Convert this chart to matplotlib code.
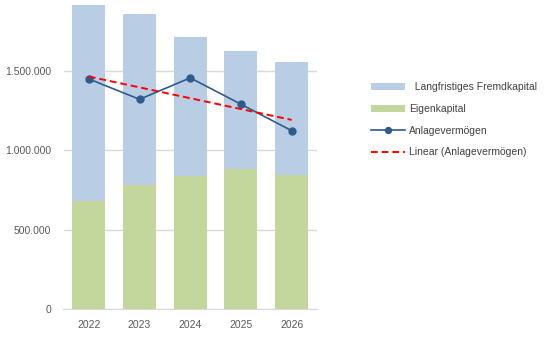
import numpy as np
import matplotlib.pyplot as plt
from matplotlib.ticker import FuncFormatter

plt.rcParams['font.family'] = ['Liberation Sans', 'DejaVu Sans']

years = ['2022', '2023', '2024', '2025', '2026']
eigenkapital = [678000, 779000, 839000, 880000, 845000]
fremdkapital = [1239000, 1078000, 873000, 744000, 709000]
anlagevermoegen = [1450000, 1322000, 1457000, 1291000, 1124000]

x = np.arange(len(years))
# linear trend of Anlagevermögen (like Excel's trendline)
k, d = np.polyfit(x, anlagevermoegen, 1)
trend = k * x + d

fig = plt.figure(figsize=(5.48, 3.53), dpi=100)
ax = fig.add_axes([63.5/548, 1-309/353, 253.5/548, 309/353])

w = 0.65
b1 = ax.bar(x, eigenkapital, w, color='#C3D69B', label='Eigenkapital', zorder=2)
b2 = ax.bar(x, fremdkapital, w, bottom=eigenkapital, color='#B9CDE5',
            label='  Langfristiges Fremdkapital', zorder=2)
l1, = ax.plot(x, anlagevermoegen, color='#2E5B8E', lw=1.2, marker='o', ms=5,
              label='Anlagevermögen', zorder=3)
l2, = ax.plot(x, trend, color='#FF0000', lw=1.4, ls=(0, (3.5, 2)),
              label='Linear (Anlagevermögen)', zorder=4)

ax.set_xlim(-0.5, 4.5)
ax.set_ylim(0, 1948000)
ax.set_yticks([0, 500000, 1000000, 1500000])
ax.yaxis.set_major_formatter(FuncFormatter(lambda v, p: f'{int(v):,}'.replace(',', '.')))
ax.set_xticks(x)
ax.set_xticklabels(years)
ax.grid(axis='y', color='#D9D9D9', lw=1, zorder=0)
ax.tick_params(length=0, labelsize=7.5, labelcolor='#595959', pad=8)
ax.tick_params(axis='y', pad=9)
for s in ['left', 'right', 'top']:
    ax.spines[s].set_visible(False)
ax.spines['bottom'].set_color('#D9D9D9')

fig.legend([b2, b1, l1, l2], [b2.get_label(), b1.get_label(), l1.get_label(), l2.get_label()],
           loc='upper left', bbox_to_anchor=(362/548, 1-73/353), frameon=False,
           fontsize=7.5, handlelength=3.2, handleheight=0.6, labelspacing=1.12,
           handletextpad=0.4, labelcolor='#404040', markerscale=0.85)

fig.savefig('out.png', dpi=100)
